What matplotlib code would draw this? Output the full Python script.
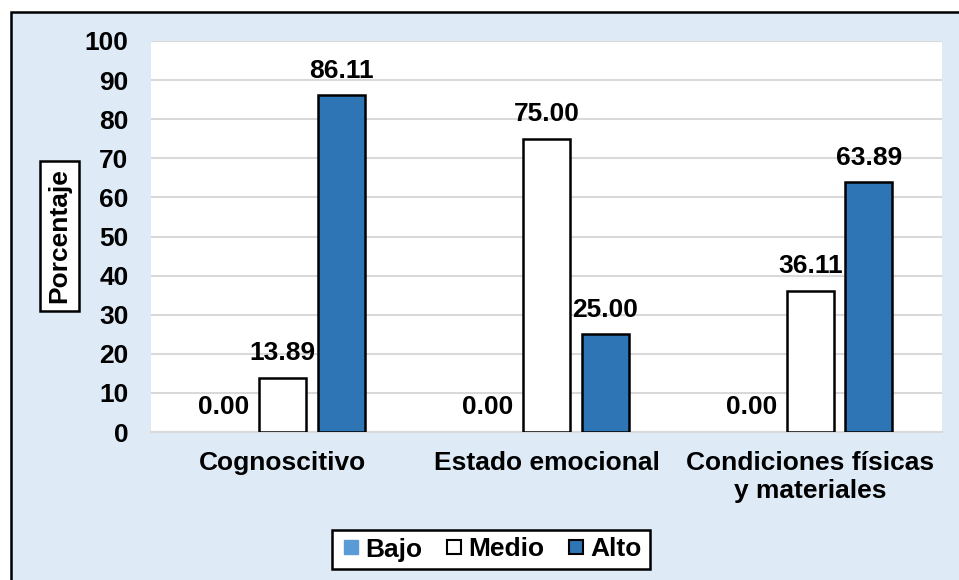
import matplotlib
matplotlib.use("Agg")
import matplotlib.pyplot as plt
import numpy as np
from matplotlib.patches import Rectangle
from matplotlib.lines import Line2D

categories = ["Cognoscitivo", "Estado emocional", "Condiciones físicas\ny materiales"]
series_names = ["Bajo", "Medio", "Alto"]
bajo = [0.00, 0.00, 0.00]
medio = [13.89, 75.00, 36.11]
alto = [86.11, 25.00, 63.89]
yticks = [0, 10, 20, 30, 40, 50, 60, 70, 80, 90, 100]

plt.rcParams['font.family'] = ['Liberation Sans', 'DejaVu Sans']
plt.rcParams['font.weight'] = 'bold'
FS = 19

W, H = 959, 580
fig = plt.figure(figsize=(W / 100, H / 100), dpi=100)
fig.patch.set_facecolor('white')
bg = '#DEEBF7'
fig.patches.append(Rectangle((11 / W, -0.1), 1.2, 1.1 - 12 / H, transform=fig.transFigure,
                             facecolor=bg, edgecolor='black', linewidth=1.8, zorder=-5))

ax = fig.add_axes([150.7 / W, 1 - 432 / H, 791.5 / W, (432 - 41) / H])
ax.set_zorder(2)
ax.set_facecolor('white')
x = np.arange(len(categories))
bw = 0.178
off = 0.222
colors = ['#5B9BD5', '#FFFFFF', '#2E75B6']
edge_w = [0, 1.8, 1.8]
data = [bajo, medio, alto]
for i, (vals, col) in enumerate(zip(data, colors)):
    bars = ax.bar(x + (i - 1) * off, vals, bw, color=col, edgecolor='black',
                  linewidth=edge_w[i], zorder=3)
    for b, v in zip(bars, vals):
        ax.annotate(f"{v:.2f}", (b.get_x() + b.get_width() / 2, v), xytext=(0, 9),
                    textcoords='offset points', ha='center', va='bottom',
                    fontsize=FS, fontweight='bold', color='black', zorder=4)

ax.set_xlim(-0.5, 2.5)
ax.set_ylim(0, 100)
ax.set_yticks(yticks)
ax.set_xticks(x)
ax.set_xticklabels(categories, fontsize=FS, fontweight='bold', linespacing=1.2)
ax.tick_params(axis='y', length=0, pad=16, labelsize=FS)
ax.tick_params(axis='x', length=0, pad=14, labelsize=FS)
ax.grid(axis='y', color='#D9D9D9', linewidth=1.5, zorder=0)
ax.set_axisbelow(True)
for s in ['top', 'right', 'left']:
    ax.spines[s].set_visible(False)
ax.spines['bottom'].set_color('#D9D9D9')
ax.spines['bottom'].set_linewidth(1.5)

fig.text(59.5 / W, 1 - 236 / H, "Porcentaje", rotation=90, ha='center', va='center',
         fontsize=FS, fontweight='bold',
         bbox=dict(boxstyle='square,pad=0.28', facecolor='white', edgecolor='black', linewidth=1.8))

handles = [
    Line2D([], [], linestyle='none', marker='s', markersize=10, markerfacecolor=colors[0], markeredgecolor=colors[0]),
    Line2D([], [], linestyle='none', marker='s', markersize=10, markerfacecolor=colors[1], markeredgecolor='black', markeredgewidth=1.5),
    Line2D([], [], linestyle='none', marker='s', markersize=10, markerfacecolor=colors[2], markeredgecolor='black', markeredgewidth=1.5),
]
leg = fig.legend(handles, series_names, loc='center', bbox_to_anchor=(491 / W, 1 - 549.5 / H),
                 ncol=3, frameon=True, fancybox=False, handlelength=0.8,
                 handletextpad=0.15, columnspacing=0.8, borderpad=0.3, framealpha=1,
                 prop={'weight': 'bold', 'size': FS})
leg.get_frame().set_edgecolor('black')
leg.get_frame().set_linewidth(1.8)

fig.savefig('out.png', dpi=100, facecolor=fig.get_facecolor())
